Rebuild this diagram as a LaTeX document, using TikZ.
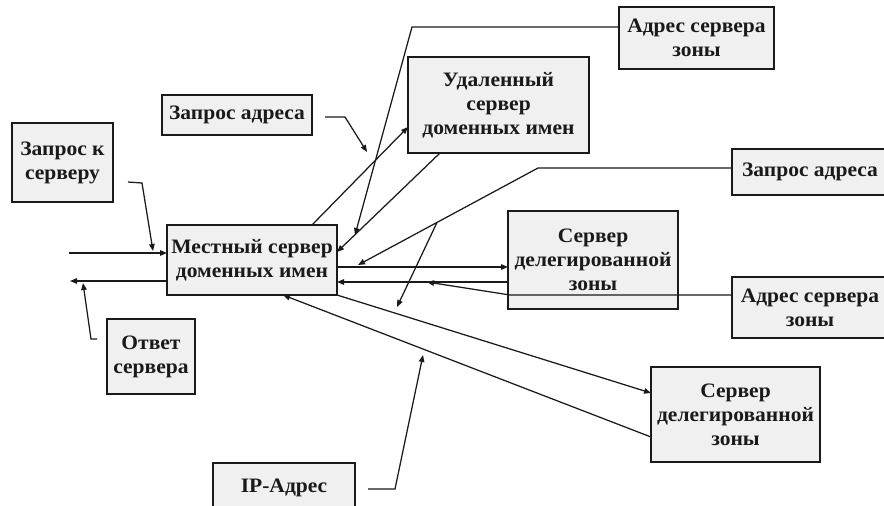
\documentclass[tikz,border=0pt]{standalone}
\usepackage{fontspec}
\setmainfont{Liberation Serif}[BoldFont={Liberation Serif Bold}, FakeStretch=1.05]
\usetikzlibrary{arrows.meta,calc}

\definecolor{boxfill}{HTML}{F0F0F0}
\definecolor{ink}{HTML}{1A1A1A}

\tikzset{
  blk/.style={draw=ink, line width=1.5pt, fill=boxfill, inner sep=0pt, outer sep=0pt,
    align=center, font=\fontsize{20.5}{24}\selectfont\bfseries, text=ink},
  link/.style={draw=ink, line width=1.25pt},
  arr/.style={link, -{Triangle[length=7pt,width=5.5pt]}},
}

\begin{document}
\begin{tikzpicture}[x=1pt, y=-1pt]
  \useasboundingbox (0,0) rectangle (884,506);
  \clip (0,0) rectangle (884,506);
  \fill[white] (0,0) rectangle (884,506);

  % blocks
  \node[blk, minimum width=101pt, minimum height=79pt] (req)    at (62.5,162.5) {Запрос к\\серверу};
  \node[blk, minimum width=88pt,  minimum height=75pt] (resp)   at (151,356.5)  {Ответ\\сервера};
  \node[blk, minimum width=150pt, minimum height=40pt] (qa1)    at (237,115)    {Запрос адреса};
  \node[blk, minimum width=170pt, minimum height=70pt] (local)  at (252,260)    {Местный сервер\\доменных имен};
  \node[blk, minimum width=181pt, minimum height=96pt] (remote) at (498.5,105)  {Удаленный\\сервер\\доменных имен};
  \node[blk, minimum width=155pt, minimum height=62pt] (zaddr1) at (696.5,38)   {Адрес сервера\\зоны};
  \node[blk, minimum width=156pt, minimum height=46pt] (qa2)    at (810,172)    {Запрос адреса};
  \node[blk, minimum width=170pt, minimum height=98pt] (deleg1) at (593,260)    {Сервер\\делегированной\\зоны};
  \node[blk, minimum width=156pt, minimum height=61pt] (zaddr2) at (810,307.5)  {Адрес сервера\\зоны};
  \node[blk, minimum width=169pt, minimum height=95pt] (deleg2) at (735.5,414.5){Сервер\\делегированной\\зоны};
  \node[blk, minimum width=142pt, minimum height=50pt] (ip)     at (284,488)    {IP-Адрес};

  % free ends of the lines
  \coordinate (inL)  at (69,253);
  \coordinate (outL) at (70,281);
  \coordinate (c1a) at (128,182);
  \coordinate (c1b) at (142,183);
  \coordinate (c1t) at (153,251);
  \coordinate (c2a) at (97,339);
  \coordinate (c2b) at (91,339);
  \coordinate (c2t) at (83,283);
  \coordinate (c3k) at (412,27);
  \coordinate (c3t) at (355,235);
  \coordinate (c4a) at (325,117);
  \coordinate (c4b) at (345,117);
  \coordinate (c4t) at (367,152);
  \coordinate (c5k) at (538,168);
  \coordinate (c5t) at (358,265);
  \coordinate (c5s) at ($(c5k)!0.561!(c5t)$);
  \coordinate (c6t) at (397,307);
  \coordinate (c7k) at (510,295);
  \coordinate (c7t) at (427,282);
  \coordinate (c8a) at (368,489);
  \coordinate (c8b) at (395,489);
  \coordinate (c8t) at (423,355);

  % request in / answer out
  \draw[arr] (inL) -- (local.west |- inL);
  \draw[arr] (local.west |- outL) -- (outL);
  \draw[arr] (c1a) -- (c1b) -- (c1t);
  \draw[arr] (c2a) -- (c2b) -- (c2t);

  % exchange with the remote name server
  \draw[arr] ([xshift=60pt]local.north) -- ([yshift=-22pt]remote.west);
  \draw[arr] ([xshift=-58.5pt]remote.south) -- ([yshift=8pt]local.east);
  \draw[arr] ([yshift=11pt]zaddr1.west) -- (c3k) -- (c3t);
  \draw[arr] (c4a) -- (c4b) -- (c4t);

  % exchange with the first delegated zone
  \draw[arr] ([yshift=-7pt]local.east) -- ([yshift=-7pt]deleg1.west);
  \draw[arr] ([yshift=-22pt]deleg1.west) -- ([yshift=-22pt]local.east);
  \draw[arr] ([yshift=4pt]qa2.west) -- (c5k) -- (c5t);
  \draw[arr] (c5s) -- (c6t);
  \draw[arr] ([yshift=12.5pt]zaddr2.west) -- (c7k) -- (c7t);

  % exchange with the second delegated zone
  \draw[arr] (local.south east) -- ([yshift=21.5pt]deleg2.west);
  \draw[arr] ([yshift=-22.5pt]deleg2.west) -- ([xshift=31pt]local.south);
  \draw[arr] (c8a) -- (c8b) -- (c8t);
\end{tikzpicture}
\end{document}
